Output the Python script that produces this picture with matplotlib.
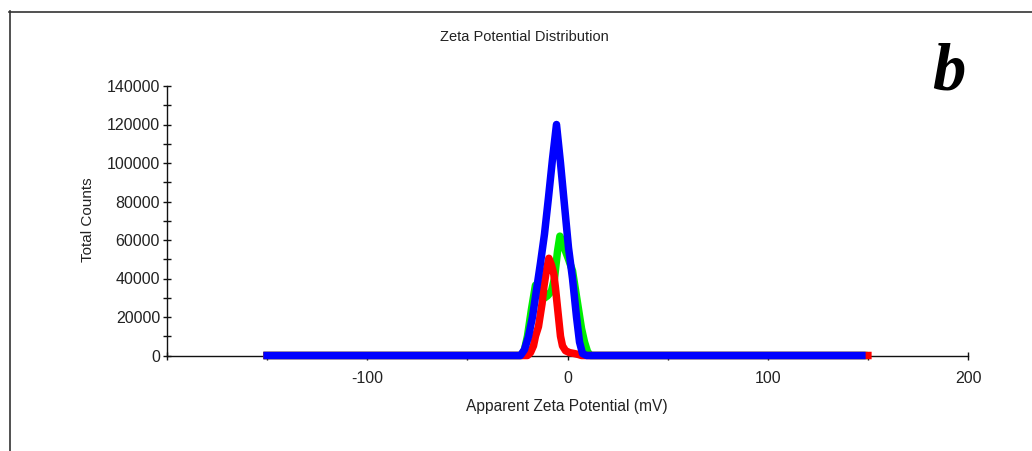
import matplotlib
matplotlib.use("Agg")
import matplotlib.pyplot as plt
from matplotlib.lines import Line2D

plt.rcParams['font.family'] = ['Liberation Sans', 'DejaVu Sans']

# Data
red_x = [-150, -20, -18.5, -17, -16, -14.5, -12.7, -11.8, -10.5, -9.3, -8, -6.8, -6, -5.2, -4.3, -3.5, -2.5, -1, 1, 3.5, 5.5, 7, 150]
red_y = [0, 0, 1500, 5000, 10000, 15000, 27000, 35700, 44400, 50500, 47000, 42000, 35000, 27000, 18000, 10000, 5000, 2500, 1500, 1000, 500, 0, 0]

green_x = [-150, -23, -21.5, -20, -18, -16, -14, -12, -10, -8, -6.5, -5, -3.8, -2, 0.5, 2.5, 4, 5.5, 7, 8.5, 10, 11.5, 148]
green_y = [0, 0, 3000, 10000, 24000, 36500, 32000, 29500, 31000, 33500, 40000, 54000, 62000, 57000, 50000, 44000, 34000, 24000, 14000, 7000, 2000, 0, 0]

blue_x = [-150, -23.5, -21.5, -19.5, -17.5, -15.5, -13.5, -11.5, -9.5, -7.5, -5.5, -3.5, -1.5, 0.5, 2.5, 4.5, 6, 7.5, 9.5, 147]
blue_y = [0, 0, 3000, 9800, 20000, 34000, 48000, 63000, 82000, 102000, 120000, 100000, 78000, 56000, 40000, 20000, 7000, 1000, 0, 0]

x_ticks = [-200, -150, -100, -50, 0, 50, 100, 150, 200]
x_labels = ['', '', '-100', '', '0', '', '100', '', '200']
y_ticks = [0, 20000, 40000, 60000, 80000, 100000, 120000, 140000]
y_minor = [10000, 30000, 50000, 70000, 90000, 110000, 130000]

W, H = 1032, 451
fig = plt.figure(figsize=(W / 100, H / 100), dpi=100)
ax = fig.add_axes([167 / W, 1 - 355.5 / H, (968 - 167) / W, (355.5 - 86) / H])

lw = 5.4
ax.plot(green_x, green_y, color='#00ee00', lw=lw, clip_on=False, zorder=3)
ax.plot(red_x, red_y, color='#ff0000', lw=lw, clip_on=False, zorder=3)
ax.plot(blue_x, blue_y, color='#0000ff', lw=lw, clip_on=False, zorder=3)

ax.set_xlim(-200, 200)
ax.set_ylim(0, 140000)
ax.set_xticks(x_ticks)
ax.set_xticklabels(x_labels)
ax.set_yticks(y_ticks)
ax.set_yticklabels([str(v) for v in y_ticks])
ax.set_yticks(y_minor, minor=True)

for s in ['top', 'right']:
    ax.spines[s].set_visible(False)
for s in ['left', 'bottom']:
    ax.spines[s].set_linewidth(1.0)
    ax.spines[s].set_color('#111111')

ax.tick_params(axis='both', which='both', direction='inout', length=6, width=1.0,
               color='#111111', labelsize=11.5, labelcolor='#222222')
ax.tick_params(axis='x', pad=8)
ax.tick_params(axis='y', pad=2)

fig.text(524 / W, 1 - 37 / H, 'Zeta Potential Distribution', ha='center', va='center',
         fontsize=10.5, color='#222222')
fig.text(88 / W, 1 - 220 / H, 'Total Counts', ha='center', va='center', rotation=90,
         fontsize=11, color='#222222')
fig.text(567 / W, 1 - 407 / H, 'Apparent Zeta Potential (mV)', ha='center', va='center',
         fontsize=11.2, color='#222222')
fig.text(949 / W, 1 - 73 / H, 'b', ha='center', va='center', fontsize=48,
         family='Liberation Serif', fontweight='bold', fontstyle='italic', color='black')

# outer frame
fig.add_artist(Line2D([9.5 / W, 9.5 / W], [0, 1 - 11 / H], transform=fig.transFigure,
                      color='#333333', lw=1.2))
fig.add_artist(Line2D([9 / W, 1], [1 - 11.5 / H, 1 - 11.5 / H], transform=fig.transFigure,
                      color='#333333', lw=1.2))

fig.savefig('out.png', dpi=100)
